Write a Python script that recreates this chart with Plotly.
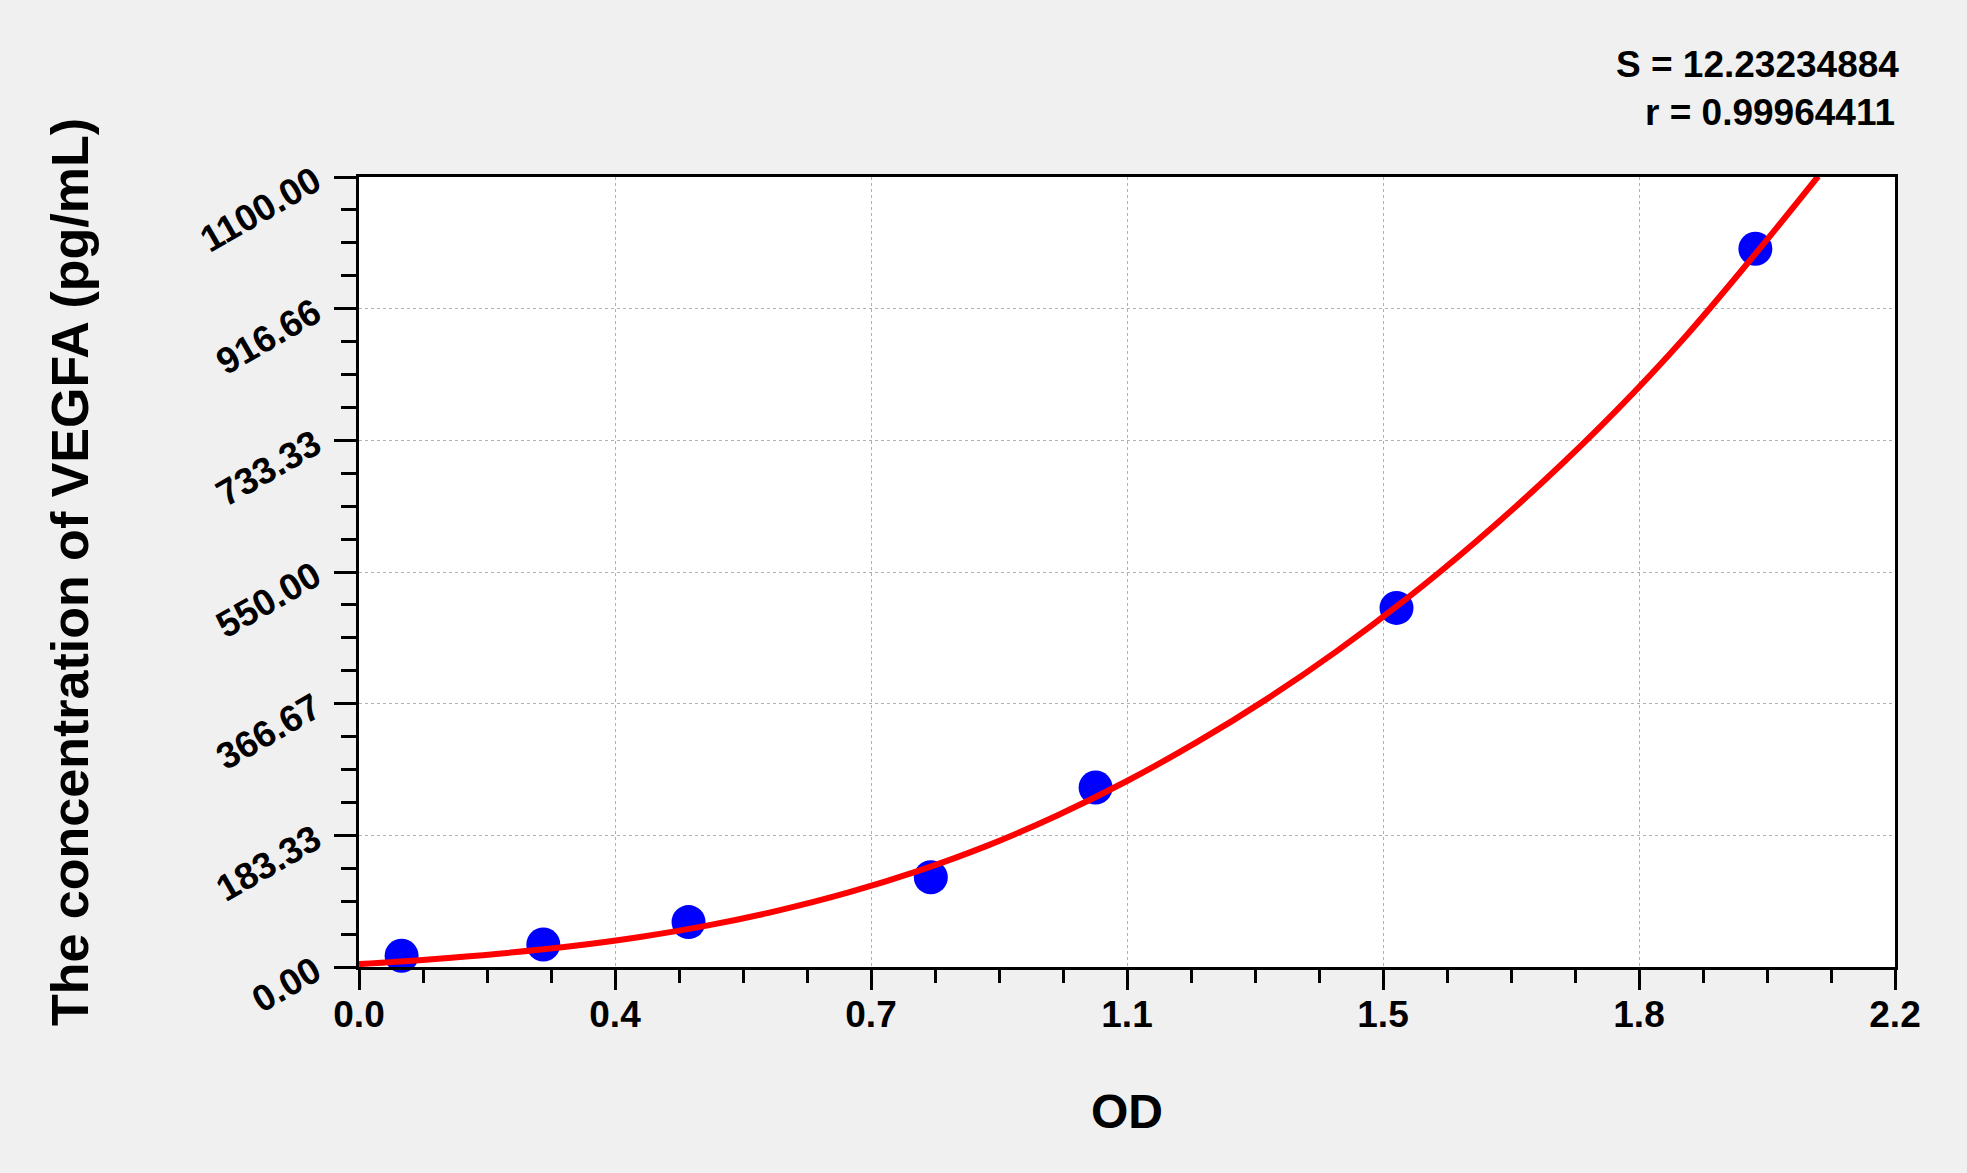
# VEGFA standard curve - concentration vs OD
import plotly.graph_objects as go

# standards
od_points = [0.061, 0.264, 0.472, 0.819, 1.055, 1.486, 2.000]
conc_points = [15.63, 31.25, 62.5, 125, 250, 500, 1000]

# fitted curve
curve_od = [0, 0.1, 0.2, 0.3, 0.4, 0.5, 0.6, 0.7, 0.8, 0.9, 1.0, 1.1,
            1.2, 1.3, 1.4, 1.5, 1.6, 1.7, 1.8, 1.9, 2.0, 2.09]
curve_conc = [4, 10.5, 18.5, 28.5, 41.5, 58, 78.5, 103.5, 133.5, 169, 211, 259,
              313, 373, 439.5, 512.5, 592.5, 679.5, 774, 878, 993, 1101]

# axis ticks
x_tickvals = [0, 2.2 / 6, 2.2 * 2 / 6, 1.1, 2.2 * 4 / 6, 2.2 * 5 / 6, 2.2]
x_ticktext = ['0.0', '0.4', '0.7', '1.1', '1.5', '1.8', '2.2']
y_tickvals = [0, 1100 / 6, 1100 * 2 / 6, 550, 1100 * 4 / 6, 1100 * 5 / 6, 1100]
y_ticktext = ['0.00', '183.33', '366.67', '550.00', '733.33', '916.66', '1100.00']

stats_lines = ['S = 12.23234884', 'r = 0.99964411']

FONT = 'Liberation Sans, Arial, sans-serif'

fig = go.Figure()

fig.add_trace(go.Scatter(
    x=od_points, y=conc_points,
    mode='markers',
    marker=dict(color='#0000ff', size=34, line=dict(width=0)),
    cliponaxis=False,
    showlegend=False,
))

fig.add_trace(go.Scatter(
    x=curve_od, y=curve_conc,
    mode='lines',
    line=dict(color='#ff0000', width=6, shape='spline'),
    showlegend=False,
))

axis_common = dict(
    showline=True, linecolor='black', linewidth=3, mirror=True,
    ticks='outside', tickcolor='black', tickwidth=3,
    showgrid=True, gridcolor='#b0b0b0', gridwidth=1, griddash='dot',
    zeroline=False,
    tickfont=dict(family=FONT, size=37, color='black', weight='bold'),
)

fig.update_xaxes(
    axis_common,
    range=[0, 2.2],
    tickmode='array', tickvals=x_tickvals, ticktext=x_ticktext,
    ticklen=20, ticklabelstandoff=-7,
    minor=dict(ticks='outside', ticklen=13, tickwidth=3, tickcolor='black',
               tickmode='linear', tick0=0, dtick=2.2 / 24, showgrid=False),
    title=dict(text='OD', standoff=60,
               font=dict(family=FONT, size=48, color='black', weight='bold')),
)

fig.update_yaxes(
    axis_common,
    range=[0, 1100],
    tickmode='array', tickvals=y_tickvals, ticktext=y_ticktext,
    ticklen=22, tickangle=-30, ticklabelstandoff=12,
    minor=dict(ticks='outside', ticklen=15, tickwidth=3, tickcolor='black',
               tickmode='linear', tick0=0, dtick=1100 / 24, showgrid=False),
    title=dict(text='The concentration of VEGFA (pg/mL)', standoff=89,
               font=dict(family=FONT, size=52, color='black', weight='bold')),
)

fig.add_annotation(
    text=stats_lines[0], xref='paper', yref='paper',
    x=1.004, y=1.1427, xanchor='right', yanchor='middle', showarrow=False,
    font=dict(family=FONT, size=37, color='black', weight='bold'),
)
fig.add_annotation(
    text=stats_lines[1], xref='paper', yref='paper',
    x=1.001, y=1.0819, xanchor='right', yanchor='middle', showarrow=False,
    font=dict(family=FONT, size=37, color='black', weight='bold'),
)

fig.update_layout(
    width=1967, height=1173,
    margin=dict(l=359, r=72, t=177, b=206),
    paper_bgcolor='#f0f0f0',
    plot_bgcolor='white',
    showlegend=False,
)

fig.write_html('out.html', config={'displayModeBar': False},
               post_script="document.body.style.margin='0';")
